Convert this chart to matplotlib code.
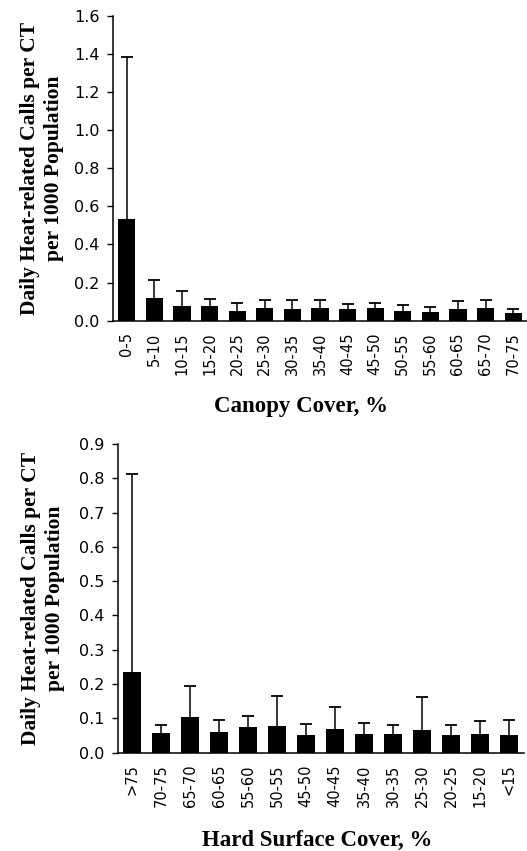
import matplotlib
matplotlib.use("Agg")
import matplotlib.pyplot as plt
import numpy as np

# canopy cover panel
canopy_labels = ['0-5', '5-10', '10-15', '15-20', '20-25', '25-30', '30-35', '35-40',
                 '40-45', '45-50', '50-55', '55-60', '60-65', '65-70', '70-75']
canopy_mean = [0.536, 0.117, 0.077, 0.077, 0.053, 0.067, 0.061, 0.067,
               0.061, 0.067, 0.053, 0.047, 0.061, 0.067, 0.039]
canopy_upper = [1.383, 0.214, 0.158, 0.114, 0.091, 0.109, 0.109, 0.109,
                0.088, 0.091, 0.081, 0.074, 0.103, 0.109, 0.060]

# hard surface panel
hard_labels = ['>75', '70-75', '65-70', '60-65', '55-60', '50-55', '45-50', '40-45',
               '35-40', '30-35', '25-30', '20-25', '15-20', '<15']
hard_mean = [0.234, 0.058, 0.105, 0.061, 0.074, 0.078, 0.051, 0.069,
             0.054, 0.054, 0.066, 0.051, 0.054, 0.051]
hard_upper = [0.813, 0.081, 0.194, 0.095, 0.108, 0.166, 0.084, 0.132,
              0.087, 0.081, 0.163, 0.081, 0.092, 0.095]

ylabel = 'Daily Heat-related Calls per CT\nper 1000 Population'
serif = 'Liberation Serif'


def draw(ax, labels, mean, upper, ymax, ystep, xlabel, xlab_pos, ylab_x, xlab_size):
    x = np.arange(len(labels))
    err = np.array(upper) - np.array(mean)
    ax.bar(x, mean, width=0.62, color='black', zorder=2)
    _, caps, _ = ax.errorbar(x, mean, yerr=[np.zeros(len(x)), err], fmt='none',
                             ecolor='black', elinewidth=1.1, capsize=4.5,
                             capthick=1.3, zorder=1)
    caps[0].set_visible(False)  # only the upper whisker is shown
    ax.set_xlim(-0.5, len(labels) - 0.5)
    ax.set_ylim(0, ymax)
    ax.set_yticks(np.arange(0, ymax + ystep / 2, ystep))
    ax.yaxis.set_major_formatter(matplotlib.ticker.FormatStrFormatter('%.1f'))
    ax.set_xticks(x)
    ax.set_xticklabels(labels, rotation=90, fontsize=10.5, family='DejaVu Sans')
    ax.tick_params(axis='x', length=0, pad=8.5)
    ax.tick_params(axis='y', direction='out', length=4.5, width=1, pad=5, labelsize=11.5)
    for s in ['top', 'right']:
        ax.spines[s].set_visible(False)
    for s in ['left', 'bottom']:
        ax.spines[s].set_linewidth(1.1)
    ax.set_xlabel(xlabel, family=serif, fontweight='bold', fontsize=xlab_size)
    ax.xaxis.set_label_coords(xlab_pos[0], xlab_pos[1])
    ax.xaxis.label.set_va('center')
    ax.set_ylabel(ylabel, family=serif, fontweight='bold', fontsize=15.5, linespacing=1.3)
    ax.yaxis.set_label_coords(ylab_x, 0.5)
    ax.yaxis.label.set_va('center')


fig = plt.figure(figsize=(5.27, 8.51), dpi=100)
ax1 = fig.add_axes([0.2144, 0.6232, 0.7856, 0.358])
ax2 = fig.add_axes([0.2230, 0.1155, 0.7704, 0.3628])

draw(ax1, canopy_labels, canopy_mean, canopy_upper, 1.6, 0.2,
     'Canopy Cover, %', (0.454, -0.283), -0.1715, 16.5)
draw(ax2, hard_labels, hard_mean, hard_upper, 0.9, 0.1,
     'Hard Surface Cover, %', (0.491, -0.283), -0.1835, 16.5)

fig.savefig('out.png', dpi=100)
